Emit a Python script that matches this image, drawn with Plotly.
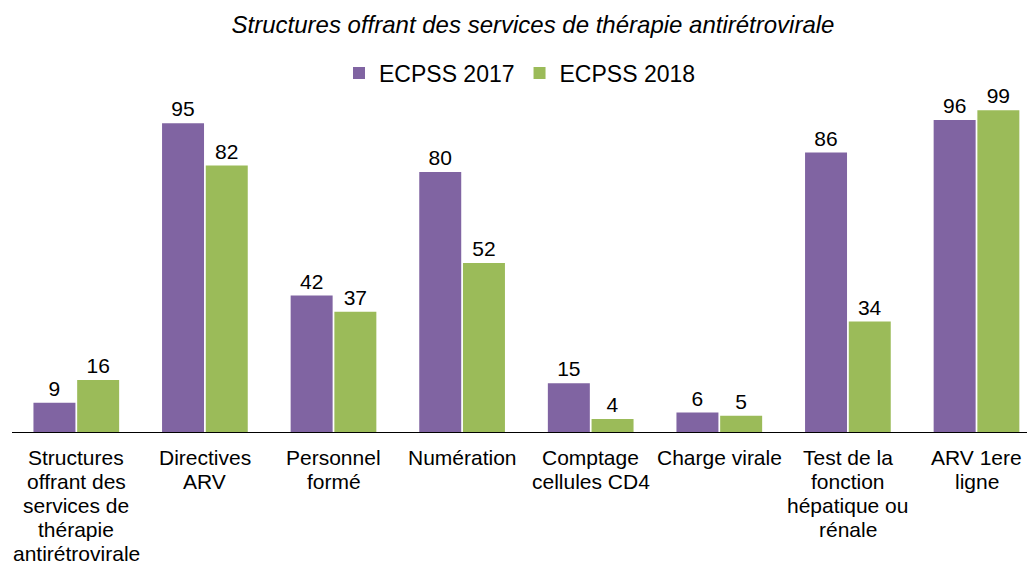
import plotly.graph_objects as go

# Category labels, one list of lines per category
categories = [
    ["Structures", "offrant des", "services de", "thérapie", "antirétrovirale"],
    ["Directives", "ARV"],
    ["Personnel", "formé"],
    ["Numération"],
    ["Comptage", "cellules CD4"],
    ["Charge virale"],
    ["Test de la", "fonction", "hépatique ou", "rénale"],
    ["ARV 1ere", "ligne"],
]
ecpss_2017 = [9, 95, 42, 80, 15, 6, 86, 96]
ecpss_2018 = [16, 82, 37, 52, 4, 5, 34, 99]

FONT = "Liberation Sans, Arial, sans-serif"
x_idx = list(range(len(categories)))

# plot area geometry (pixels)
PLOT_TOP, PLOT_BOTTOM = 107, 432
PLOT_H = PLOT_BOTTOM - PLOT_TOP
LABEL_FIRST_LINE = 457
LINE_STEP = 24

fig = go.Figure()
fig.add_trace(go.Bar(
    x=x_idx, y=ecpss_2017, name="ECPSS 2017",
    marker=dict(color="#8064A2", line=dict(width=0)),
    text=ecpss_2017, textposition="outside", cliponaxis=False,
    textfont=dict(size=21, color="#000000", family=FONT),
))
fig.add_trace(go.Bar(
    x=x_idx, y=ecpss_2018, name="ECPSS 2018",
    marker=dict(color="#9BBB59", line=dict(width=0)),
    text=ecpss_2018, textposition="outside", cliponaxis=False,
    textfont=dict(size=21, color="#000000", family=FONT),
))

# category labels drawn line by line for tight line spacing
annotations = []
for i, lines in enumerate(categories):
    for j, line in enumerate(lines):
        ypix = LABEL_FIRST_LINE + j * LINE_STEP
        annotations.append(dict(
            x=i, xref="x", y=(PLOT_BOTTOM - ypix) / PLOT_H, yref="paper",
            text=line, showarrow=False, xanchor="center", yanchor="middle",
            font=dict(size=21, family=FONT, color="#000000"),
        ))

fig.update_layout(
    width=1027, height=565,
    margin=dict(l=12, r=0, t=PLOT_TOP, b=565 - PLOT_BOTTOM),
    paper_bgcolor="white", plot_bgcolor="white",
    font=dict(family=FONT, size=21, color="#000000"),
    barmode="group", bargap=0.32, bargroupgap=0.04,
    title=dict(
        text="<i>Structures offrant des services de thérapie antirétrovirale</i>",
        x=533 / 1027, xanchor="center", xref="container",
        y=1 - 25 / 565, yanchor="middle", yref="container",
        font=dict(size=24, family=FONT, color="#000000"),
    ),
    legend=dict(
        orientation="h", xref="container", yref="container",
        x=520 / 1027, xanchor="center", y=1 - 73 / 565, yanchor="middle",
        font=dict(size=23, family=FONT), itemwidth=30,
        bgcolor="rgba(0,0,0,0)",
    ),
    showlegend=True,
    annotations=annotations,
)
fig.update_xaxes(
    tickmode="array", tickvals=x_idx, showticklabels=False,
    range=[-0.5, -0.5 + 1015 / 128.6],
    showline=True, linecolor="#000000", linewidth=1,
    ticks="", showgrid=False, zeroline=False,
)
fig.update_yaxes(
    range=[0, 100], visible=False, showgrid=False, zeroline=False,
)

fig.write_html("out.html")
